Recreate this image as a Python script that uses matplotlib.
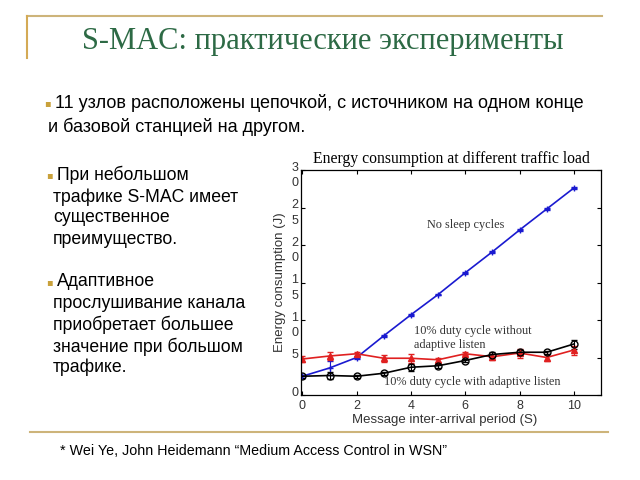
import matplotlib.pyplot as plt
from matplotlib.lines import Line2D

# data
periods = [0, 1, 2, 3, 4, 5, 6, 7, 8, 9, 10]
no_sleep = [2.5, 3.6, 5.0, 7.9, 10.7, 13.4, 16.3, 19.1, 22.0, 24.8, 27.6]
no_sleep_err = [0.2, 0.9, 0.2, 0.1, 0.1, 0.1, 0.1, 0.1, 0.1, 0.1, 0.1]
duty_no_adapt = [4.8, 5.2, 5.5, 4.9, 4.9, 4.7, 5.5, 5.1, 5.6, 5.0, 6.0]
duty_no_adapt_err = [0.4, 0.5, 0.3, 0.5, 0.6, 0.3, 0.2, 0.4, 0.6, 0.5, 0.6]
duty_adapt = [2.5, 2.6, 2.5, 2.9, 3.7, 3.9, 4.6, 5.4, 5.7, 5.7, 6.8]
duty_adapt_err = [0.2, 0.5, 0.2, 0.2, 0.5, 0.3, 0.2, 0.3, 0.3, 0.2, 0.6]
x_ticks = [0, 2, 4, 6, 8, 10]
y_ticks = [0, 5, 10, 15, 20, 25, 30]

W, H = 640, 480
GOLD = '#cdb47a'
BULLET = '#c9a13b'
SANS = ['Liberation Sans', 'DejaVu Sans']
SERIF = ['Liberation Serif', 'DejaVu Serif']

fig = plt.figure(figsize=(6.4, 4.8), dpi=100)
fig.patch.set_facecolor('white')


def px(x, y):
    return x / W, 1 - y / H


# slide decoration
fig.add_artist(Line2D([27 / W, 602 / W], [1 - 16 / H] * 2, color=GOLD, lw=1.5))
fig.add_artist(Line2D([27 / W] * 2, [1 - 16 / H, 1 - 58 / H], color='#d4aa55', lw=1.5))
fig.add_artist(Line2D([30 / W, 608 / W], [1 - 432 / H] * 2, color=GOLD, lw=1.5))

fig.text(*px(323, 41), 'S-MAC: практические эксперименты', family=SERIF,
         fontsize=22, color='#2d6a45', ha='center', va='center')

# bullets
fig.text(*px(44, 103), '▪', family='DejaVu Sans', fontsize=7, color=BULLET, va='center')
fig.text(*px(55, 103), '11 узлов расположены цепочкой, с источником на одном конце',
         family=SANS, fontsize=13, va='center')
fig.text(*px(48, 127), 'и базовой станцией на другом.', family=SANS, fontsize=13, va='center')

left_lines = [(175, 'При небольшом', True), (197, 'трафике S-MAC имеет', False),
              (218, 'существенное', False), (240, 'преимущество.', False),
              (282, 'Адаптивное', True), (303, 'прослушивание канала', False),
              (325, 'приобретает большее', False), (347, 'значение при большом', False),
              (367, 'трафике.', False)]
for y, txt, bullet in left_lines:
    if bullet:
        fig.text(*px(46, y), '▪', family='DejaVu Sans', fontsize=7, color=BULLET, va='center')
        fig.text(*px(57, y), txt, family=SANS, fontsize=12.7, va='center')
    else:
        fig.text(*px(53, y), txt, family=SANS, fontsize=12.7, va='center')

fig.text(*px(60, 451), '* Wei Ye, John Heidemann \u201cMedium Access Control in WSN\u201d',
         family=SANS, fontsize=10.3, va='center')

# chart
ax = fig.add_axes([301 / W, 1 - 395 / H, (601 - 301) / W, (395 - 170) / H])
ax.errorbar(periods, no_sleep, yerr=no_sleep_err, color='#1a1ad0', marker='+', ms=4,
            lw=1.2, capsize=2, elinewidth=0.8)
ax.errorbar(periods, duty_no_adapt, yerr=duty_no_adapt_err, color='#e02020', marker='^',
            ms=4, lw=1.2, capsize=2, elinewidth=0.8)
ax.errorbar(periods, duty_adapt, yerr=duty_adapt_err, color='black', marker='o', ms=5,
            mfc='none', mew=1.0, lw=1.2, capsize=2, elinewidth=0.8)

ax.set_xlim(-0.05, 11)
ax.set_ylim(0, 30)
ax.set_xticks(x_ticks)
ax.set_xticklabels([str(t) for t in x_ticks], family=SANS, fontsize=9, color='#333333')
ax.set_yticks(y_ticks)
ax.set_yticklabels([])
ax.tick_params(direction='in', length=3, top=True, right=True, width=0.8)
for s in ax.spines.values():
    s.set_linewidth(0.9)

# stacked y tick labels as in the original
for v in y_ticks:
    ax.annotate('\n'.join(str(v)), xy=(0, v), xycoords=('axes fraction', 'data'),
                xytext=(-2, 6), textcoords='offset points', ha='right', va='top',
                family=SANS, fontsize=9, color='#333333', linespacing=1.4,
                annotation_clip=False)

ax.set_xlabel('Message inter-arrival period (S)', family=SANS, fontsize=9.5, color='#333333')
ax.set_ylabel('Energy consumption (J)', family=SANS, fontsize=9.5, color='#333333')
ax.xaxis.set_label_coords(0.48, -0.085)
ax.yaxis.set_label_coords(-0.05, 0.5)
ax.set_title('Energy consumption at different traffic load', family=SERIF,
             fontsize=11.3, pad=5)

ax.text(4.6, 22.3, 'No sleep cycles', family=SERIF, fontsize=8.8, color='#333333')
ax.text(4.1, 7.6, '10% duty cycle without\nadaptive listen', family=SERIF,
        fontsize=8.8, color='#333333', va='center', linespacing=1.2)
ax.text(3.0, 1.75, '10% duty cycle with adaptive listen', family=SERIF,
        fontsize=8.8, color='#333333', va='center')

fig.savefig('out.png', dpi=100, facecolor='white')
